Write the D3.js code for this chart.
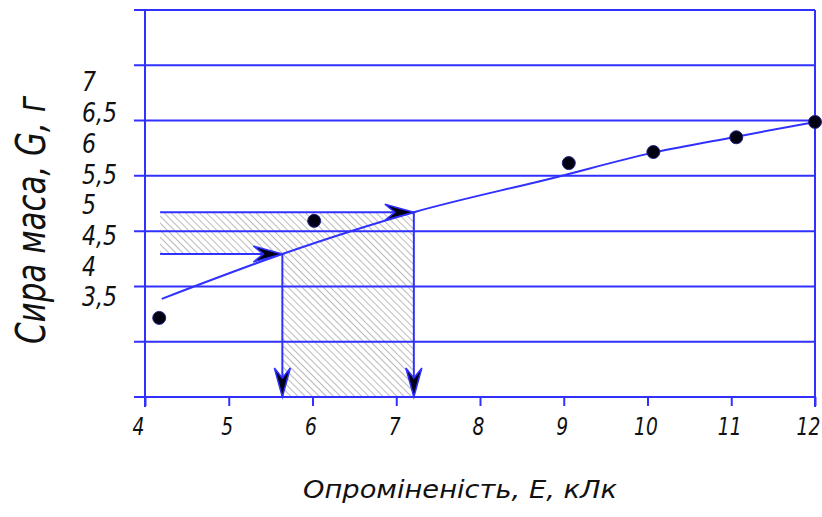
<!DOCTYPE html>
<html>
<head>
<meta charset="utf-8">
<script src="https://cdn.jsdelivr.net/npm/d3@7"></script>
<style>
  body { margin: 0; background: #fff; }
  text { font-family: "DejaVu Sans", sans-serif; font-style: italic; fill: #111; }
</style>
</head>
<body>
<div id="chart"></div>
<script>
// values
var xTicks = [4, 5, 6, 7, 8, 9, 10, 11, 12];
var yTickValues = [7, 6.5, 6, 5.5, 5, 4.5, 4, 3.5];
var yTickLabels = ["7", "6,5", "6", "5,5", "5", "4,5", "4", "3,5"];
var gridRows = [0, 1, 2, 3, 4, 5, 6, 7];

// measured points: irradiance E (klx) vs dry mass G (g)
var irradiance = [4.17, 6.02, 9.06, 10.07, 11.06, 12];
var dryMass = [3.16, 4.74, 5.68, 5.86, 6.10, 6.35];

// fitted curve as drawn
var fitE = [4.2, 5.64, 7.21, 8.85, 10.07, 11.06, 12];
var fitG = [3.47, 4.20, 4.88, 5.43, 5.85, 6.11, 6.35];

// reading guides: two mass levels -> two irradiance values
var guideStartE = 4.18;
var guideG = [4.20, 4.88];
var guideE = [5.64, 7.21];

var svgWidth = 822;
var svgHeight = 517;
var blue = "#3030ff";

var svg = d3.select("#chart").append("svg")
  .attr("width", svgWidth)
  .attr("height", svgHeight);

var plot = { left: 145, right: 815, top: 10, bottom: 397 };

var x = d3.scaleLinear().domain([4, 12]).range([plot.left, plot.right]);
var y = d3.scaleLinear().domain([3.5, 7]).range([297, 82]);
var yGrid = d3.scaleLinear().domain([0, 7]).range([plot.bottom, plot.top]);

// hatch pattern
var defs = svg.append("defs");
defs.append("pattern")
  .attr("id", "hatch")
  .attr("patternUnits", "userSpaceOnUse")
  .attr("width", 5)
  .attr("height", 5)
  .attr("patternTransform", "rotate(-45)")
  .append("line")
  .attr("x1", 0).attr("y1", 0)
  .attr("x2", 0).attr("y2", 5)
  .attr("stroke", "#777")
  .attr("stroke-width", 1);

// hatched L-shaped area
var hatchPts = [
  [x(guideStartE), y(guideG[1])],
  [x(guideE[1]), y(guideG[1])],
  [x(guideE[1]), yGrid(0)],
  [x(guideE[0]), yGrid(0)],
  [x(guideE[0]), y(guideG[0])],
  [x(guideStartE), y(guideG[0])]
];
svg.append("polygon")
  .attr("points", hatchPts.map(p => p.join(",")).join(" "))
  .attr("fill", "url(#hatch)");

// grid lines
svg.append("g").selectAll("line")
  .data(gridRows)
  .enter().append("line")
  .attr("x1", plot.left - 11)
  .attr("x2", plot.right)
  .attr("y1", d => yGrid(d))
  .attr("y2", d => yGrid(d))
  .attr("stroke", blue)
  .attr("stroke-width", 2);

// vertical frame lines
[plot.left, plot.right].forEach(function(px) {
  svg.append("line")
    .attr("x1", px).attr("x2", px)
    .attr("y1", plot.top).attr("y2", plot.bottom + 10)
    .attr("stroke", blue)
    .attr("stroke-width", 2);
});

// x axis ticks + labels
var xAxis = svg.append("g")
  .attr("transform", `translate(0, ${plot.bottom})`)
  .call(d3.axisBottom(x).tickValues(xTicks).tickSize(9).tickSizeOuter(0).tickPadding(12));
xAxis.select(".domain").remove();
xAxis.selectAll(".tick line").attr("stroke", blue).attr("stroke-width", 2);
xAxis.selectAll(".tick text")
  .attr("font-family", null)
  .style("font-size", "24px")
  .attr("transform", d => `translate(${d === 12 ? -7 : (d === 4 ? -7 : -2)},0) scale(0.78,1)`)
  .attr("fill", "#111");

// y tick labels (they sit on their own scale, not on the grid)
svg.append("g").selectAll("text")
  .data(yTickValues)
  .enter().append("text")
  .attr("transform", d => `translate(82, ${y(d)}) scale(0.85,1)`)
  .attr("dy", "0.36em")
  .style("font-size", "26px")
  .text((d, i) => yTickLabels[i]);

// guide lines
var guideLine = svg.append("g")
  .attr("stroke", blue)
  .attr("stroke-width", 2)
  .attr("fill", "none");
guideG.forEach(function(g, i) {
  guideLine.append("line")
    .attr("x1", x(guideStartE)).attr("x2", x(guideE[i]))
    .attr("y1", y(g)).attr("y2", y(g));
  guideLine.append("line")
    .attr("x1", x(guideE[i])).attr("x2", x(guideE[i]))
    .attr("y1", y(g)).attr("y2", yGrid(0));
});

// fitted curve
var fit = fitE.map((e, i) => [e, fitG[i]]);
svg.append("path")
  .datum(fit)
  .attr("fill", "none")
  .attr("stroke", blue)
  .attr("stroke-width", 2)
  .attr("d", d3.line().x(d => x(d[0])).y(d => y(d[1])).curve(d3.curveMonotoneX));

// arrow heads (stealth shape), tip at origin pointing right
function arrow(px, py, angle) {
  svg.append("path")
    .attr("d", "M0,0 L-29,-8 L-19,0 L-29,8 Z")
    .attr("transform", `translate(${px},${py}) rotate(${angle})`)
    .attr("fill", "#000018")
    .attr("stroke", blue)
    .attr("stroke-width", 1.5)
    .attr("stroke-linejoin", "miter");
}
guideG.forEach(function(g, i) {
  arrow(x(guideE[i]), y(g), 0);
  arrow(x(guideE[i]), yGrid(0), 90);
});

// measured points
svg.append("g").selectAll("circle")
  .data(irradiance)
  .enter().append("circle")
  .attr("cx", d => x(d))
  .attr("cy", (d, i) => y(dryMass[i]))
  .attr("r", 6.5)
  .attr("fill", "#000010")
  .attr("stroke", "#22228a")
  .attr("stroke-width", 1);

// axis titles
svg.append("text")
  .attr("x", 460)
  .attr("y", 498)
  .attr("text-anchor", "middle")
  .attr("textLength", 314)
  .attr("lengthAdjust", "spacingAndGlyphs")
  .style("font-size", "25px")
  .text("Опроміненість, E, кЛк");

svg.append("text")
  .attr("transform", "translate(45, 220) rotate(-90)")
  .attr("text-anchor", "middle")
  .attr("textLength", 248)
  .attr("lengthAdjust", "spacingAndGlyphs")
  .style("font-size", "40px")
  .text("Сира маса, G, г");
</script>
</body>
</html>
